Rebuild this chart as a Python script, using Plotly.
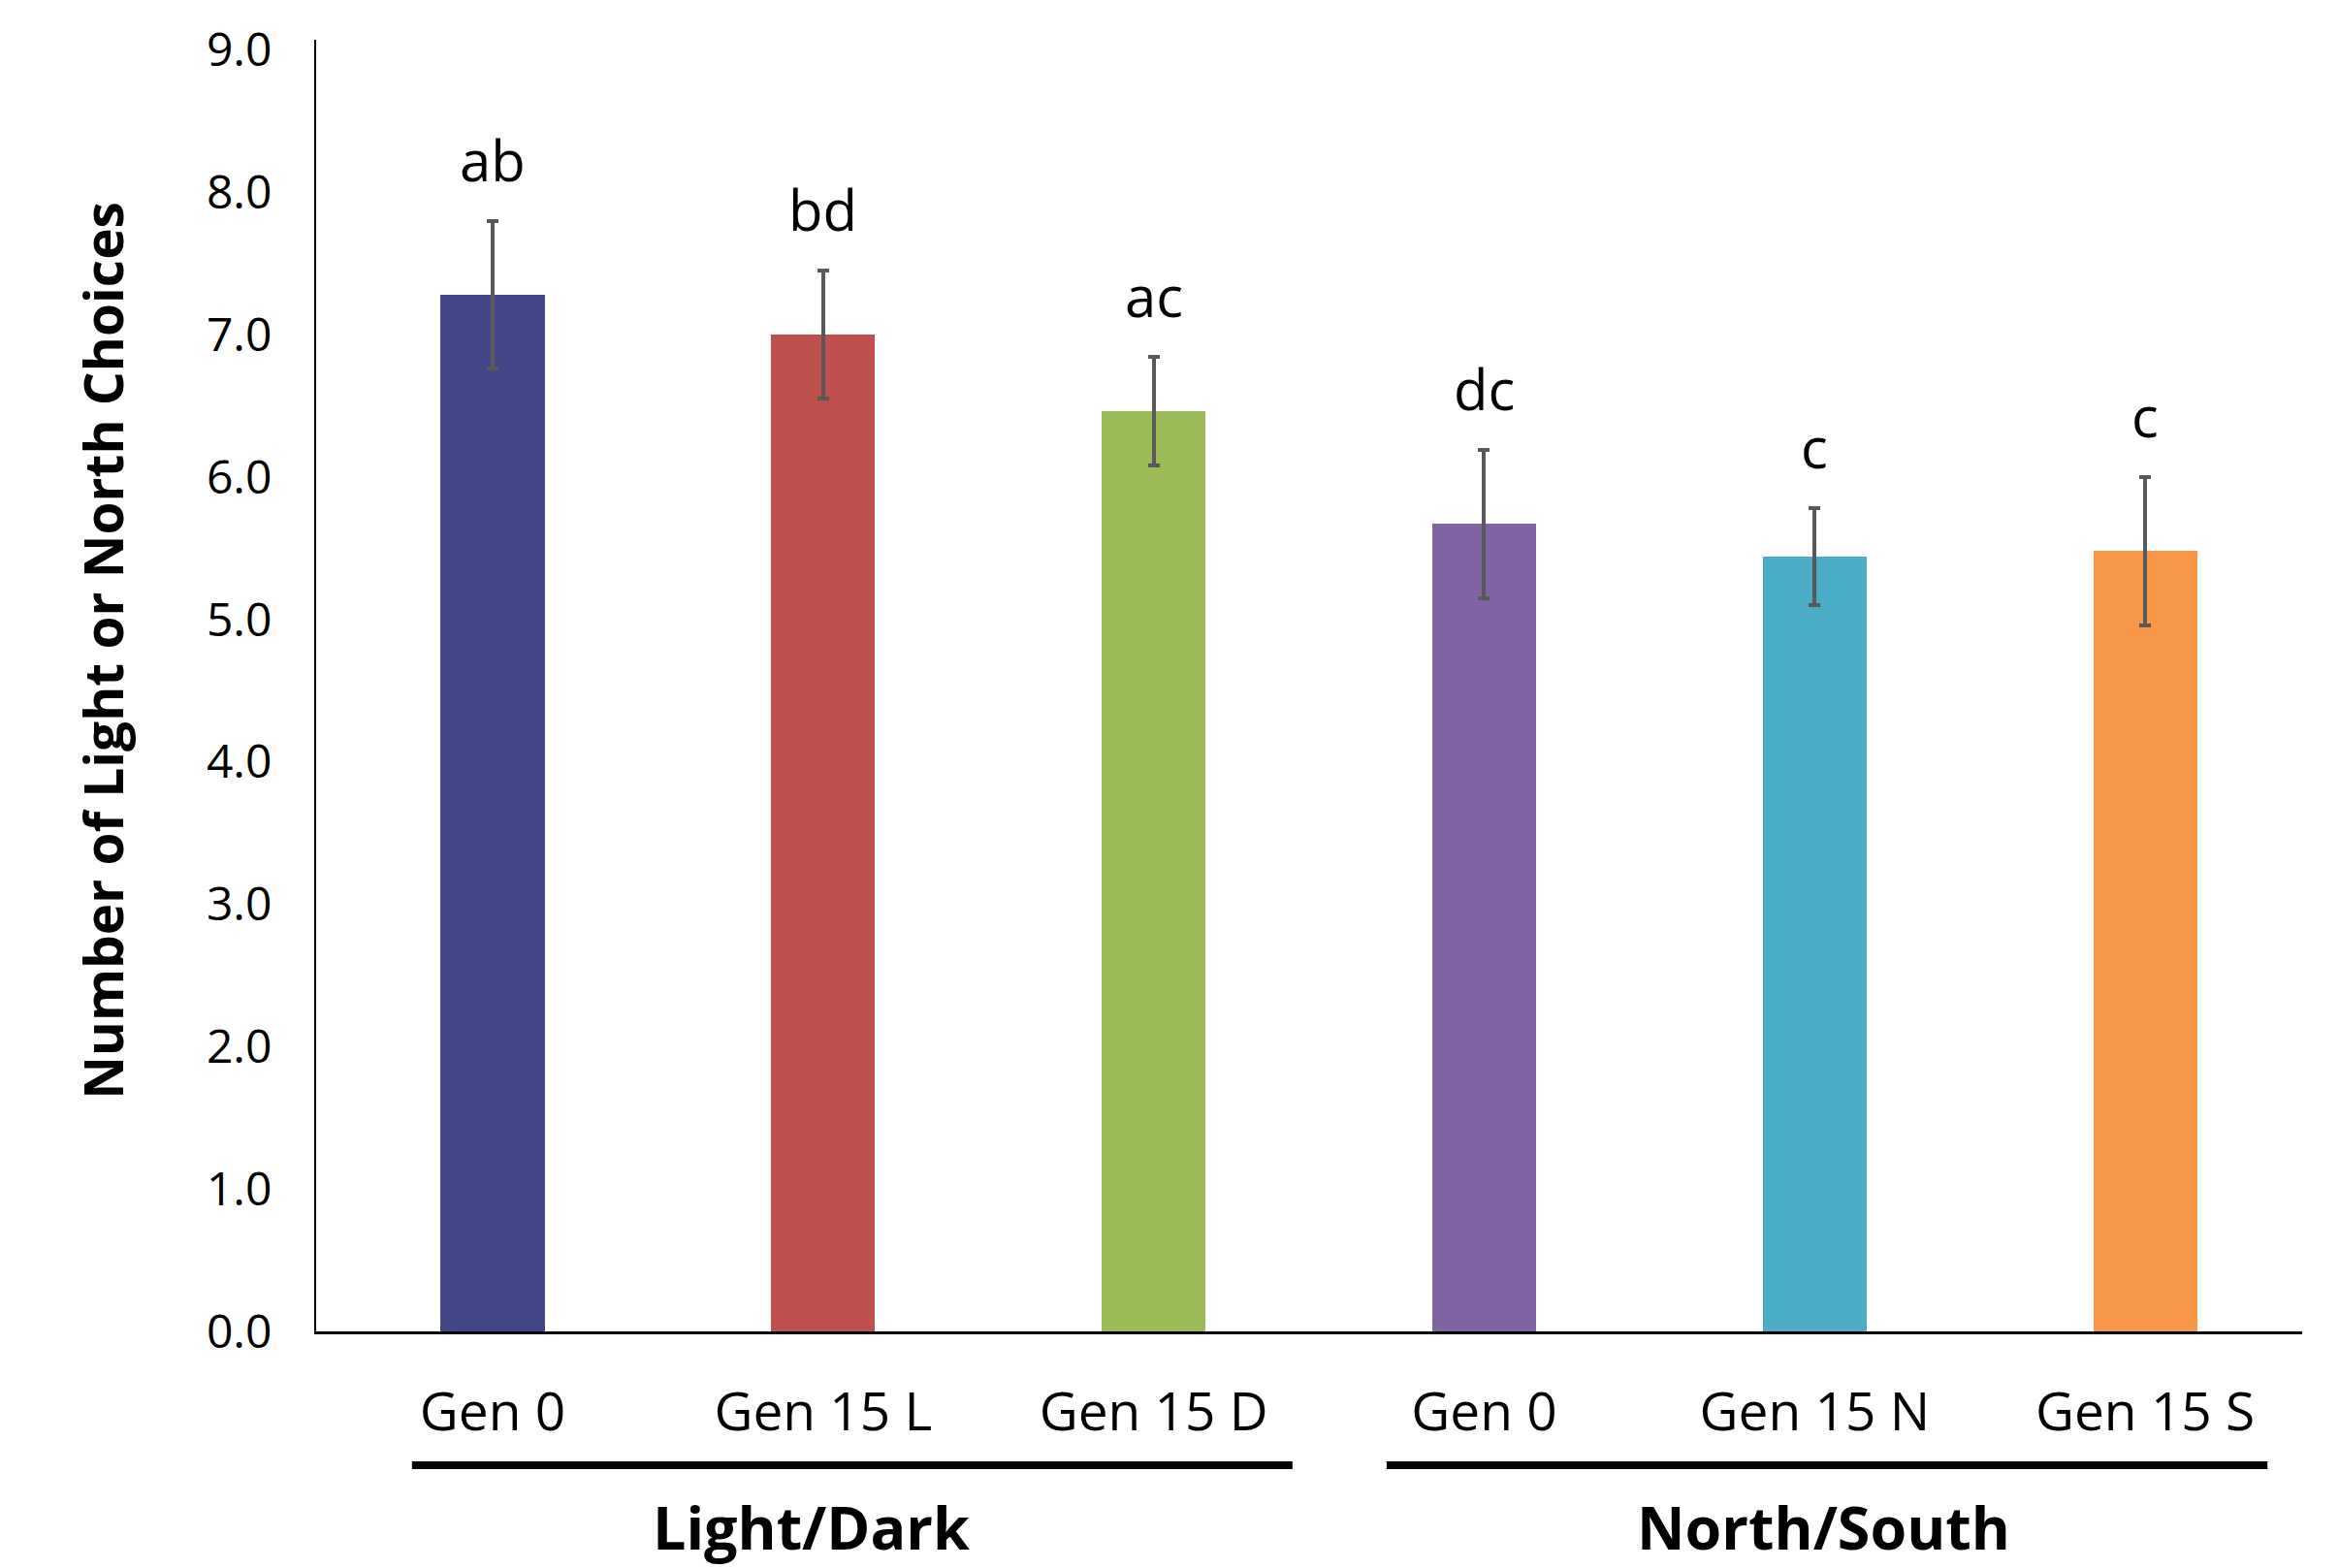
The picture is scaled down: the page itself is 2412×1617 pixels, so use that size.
import plotly.graph_objects as go

# Mean number of light/north choices per group, with error bars
categories = ["Gen 0", "Gen 15 L", "Gen 15 D", "Gen 0", "Gen 15 N", "Gen 15 S"]
means = [7.28, 7.00, 6.46, 5.67, 5.44, 5.48]
errors = [0.52, 0.45, 0.38, 0.52, 0.34, 0.52]
letters = ["ab", "bd", "ac", "dc", "c", "c"]
colors = ["#424687", "#C0504D", "#9BBB59", "#8064A2", "#4BACC6", "#F79646"]
groups = ["Light/Dark", "North/South"]
group_members = [[0, 1, 2], [3, 4, 5]]
y_ticks = [0, 1, 2, 3, 4, 5, 6, 7, 8, 9]

FONT = "Open Sans"
xpos = list(range(len(categories)))

# bracket extents (left pad, right pad) and label nudge for each group
bracket_pad = [(0.244, 0.42), (0.295, 0.37)]
label_nudge = [-0.035, 0.026]

fig = go.Figure()
fig.add_trace(go.Bar(
    x=xpos,
    y=means,
    width=0.314,
    marker=dict(color=colors, line=dict(width=0)),
    error_y=dict(type="data", array=errors, visible=True,
                 color="#595959", thickness=4, width=6),
    hoverinfo="skip",
))

# Significance letters above each error bar
for i, (m, e, t) in enumerate(zip(means, errors, letters)):
    fig.add_annotation(x=i, y=m + e, text=t, xref="x", yref="y",
                       showarrow=False, yanchor="bottom", yshift=22,
                       font=dict(family=FONT, size=58, color="black"))

# Group brackets and group names under the category labels
for name, members, (pl, pr), nudge in zip(groups, group_members,
                                           bracket_pad, label_nudge):
    lo, hi = min(members), max(members)
    fig.add_shape(type="line", xref="x", yref="paper",
                  x0=lo - pl, x1=hi + pr, y0=-0.1036, y1=-0.1036,
                  line=dict(color="black", width=8))
    fig.add_annotation(x=(lo + hi) / 2 + nudge, y=-0.1516,
                       xref="x", yref="paper",
                       text=f"<b>{name}</b>", showarrow=False,
                       yanchor="middle",
                       font=dict(family=FONT, size=61, color="black"))

# Vertical axis title
fig.add_annotation(x=-0.108, y=0.527, xref="paper", yref="paper",
                   text="<b>Number of Light or North Choices</b>",
                   textangle=-90, showarrow=False,
                   xanchor="center", yanchor="middle",
                   font=dict(family=FONT, size=55, color="black"))

fig.update_layout(
    width=2412, height=1617,
    margin=dict(l=326, r=38, t=41, b=244),
    paper_bgcolor="white", plot_bgcolor="white",
    showlegend=False,
    bargap=0,
    font=dict(family=FONT, color="black"),
    xaxis=dict(
        range=[-0.534, 5.475],
        tickmode="array", tickvals=xpos, ticktext=categories,
        showline=True, linecolor="black", linewidth=2.5,
        showgrid=False, zeroline=False,
        ticks="outside", ticklen=33, tickcolor="rgba(0,0,0,0)",
        tickfont=dict(family=FONT, size=55, color="black"),
    ),
    yaxis=dict(
        range=[0, 9.07],
        tickmode="array", tickvals=y_ticks,
        ticktext=[f"{v:.1f}" for v in y_ticks],
        showline=True, linecolor="black", linewidth=2,
        showgrid=False, zeroline=False,
        ticks="outside", ticklen=34, tickcolor="rgba(0,0,0,0)",
        tickfont=dict(family=FONT, size=48, color="black"),
    ),
)

fig.write_html("out.html")
